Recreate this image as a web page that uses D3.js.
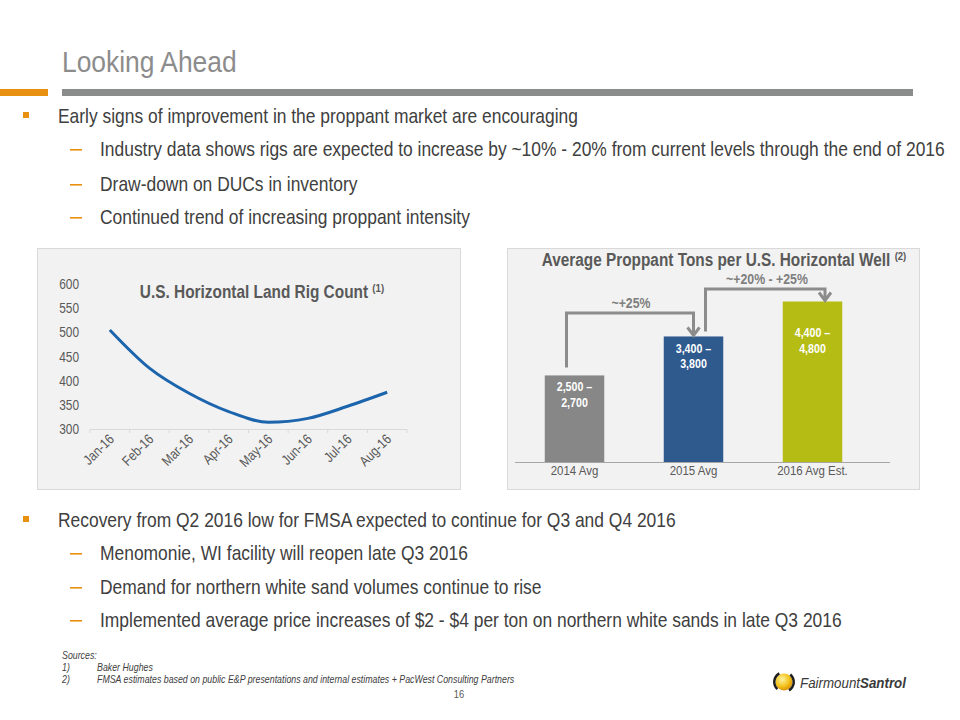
<!DOCTYPE html>
<html><head><meta charset="utf-8">
<script src="https://cdn.jsdelivr.net/npm/d3@7/dist/d3.min.js"></script>
<style>
body{margin:0;background:#fff;}
svg{display:block;}
</style></head>
<body>
<svg id="s" width="960" height="720"></svg>
<script>
// ---- data ----
const months = ["Jan-16","Feb-16","Mar-16","Apr-16","May-16","Jun-16","Jul-16","Aug-16"];
const rigCount = [505, 426, 374, 336, 314, 322, 347, 376];
const rigTicks = [300, 350, 400, 450, 500, 550, 600];

const barCats = ["2014 Avg","2015 Avg","2016 Avg Est."];
const barValues = [2600, 3770, 4820];
const barLabels = [["2,500 –","2,700"],["3,400 –","3,800"],["4,400 –","4,800"]];
const growthLabels = ["~+25%","~+20% - +25%"];

const bullets1 = ["Early signs of improvement in the proppant market are encouraging"];
const subs1 = ["Industry data shows rigs are expected to increase by ~10% - 20% from current levels through the end of 2016",
  "Draw-down on DUCs in inventory",
  "Continued trend of increasing proppant intensity"];
const bullets2 = ["Recovery from Q2 2016 low for FMSA expected to continue for Q3 and Q4 2016"];
const subs2 = ["Menomonie, WI facility will reopen late Q3 2016",
  "Demand for northern white sand volumes continue to rise",
  "Implemented average price increases of $2 - $4 per ton on northern white sands in late Q3 2016"];
const sources = ["Baker Hughes","FMSA estimates based on public E&P presentations and internal estimates + PacWest Consulting Partners"];

// ---- helpers ----
const svg = d3.select("#s");
const F = "'Liberation Sans',Arial,sans-serif";
const ORANGE = "#e8900f";
// condensed text: Arial-like font squeezed horizontally (Arial Narrow look)
function ntext(parent, x, y, size, sx, opts){
  opts = opts || {};
  const t = parent.append("text")
    .attr("transform", `translate(${x},${y})` + (opts.rotate ? ` rotate(${opts.rotate})` : "") + ` scale(${sx},1)`)
    .attr("font-family", F).attr("font-size", size)
    .attr("fill", opts.fill || "#404040")
    .attr("text-anchor", opts.anchor || "start");
  if (opts.bold) t.attr("font-weight","bold");
  if (opts.italic) t.attr("font-style","italic");
  if (opts.text !== undefined) t.text(opts.text);
  return t;
}

// title
ntext(svg, 62, 72, 30, 0.88, {fill:"#8c8c8c", text:"Looking Ahead"});
svg.append("rect").attr("x",0).attr("y",89).attr("width",48).attr("height",7).attr("fill",ORANGE);
svg.append("rect").attr("x",62).attr("y",89).attr("width",851).attr("height",7).attr("fill","#8a8c8c");

function bulletBlock(mainTxt, subTxts, y0, ys){
  svg.append("rect").attr("x",23).attr("y",y0-4).attr("width",6).attr("height",6).attr("fill",ORANGE);
  ntext(svg, 58, y0+7, 20.5, 0.85, {text:mainTxt});
  subTxts.forEach((t,i)=>{
    const y = ys[i];
    svg.append("rect").attr("x",70).attr("y",y).attr("width",12).attr("height",1.6).attr("fill",ORANGE);
    ntext(svg, 100, y+7, 20.5, 0.85, {text:t});
  });
}
bulletBlock(bullets1[0], subs1, 116, [149, 184, 217]);
bulletBlock(bullets2[0], subs2, 520, [553, 587, 620]);

// ---- line chart ----
const g1 = svg.append("g");
g1.append("rect").attr("x",37.5).attr("y",248.5).attr("width",423).attr("height",241)
  .attr("fill","#f2f2f2").attr("stroke","#d9d9d9");
const x1 = d3.scaleBand().domain(months).range([90,407]);
const y1 = d3.scaleLinear().domain([300,600]).range([429,284]);
const yAx = g1.append("g").attr("transform","translate(80,0)")
  .call(d3.axisLeft(y1).tickValues(rigTicks).tickSize(0).tickPadding(2));
yAx.select(".domain").remove();
yAx.selectAll("text").remove();
rigTicks.forEach(v=>ntext(g1, 79, y1(v)+5, 14, 0.85, {anchor:"end", fill:"#595959", text:d3.format("d")(v)}));
g1.append("line").attr("x1",90).attr("x2",407).attr("y1",429.5).attr("y2",429.5).attr("stroke","#d9d9d9");
const bounds = months.map(m=>x1(m)).concat([x1.range()[1]]);
g1.selectAll(".tk").data(bounds).join("line").attr("x1",d=>d).attr("x2",d=>d)
  .attr("y1",429.5).attr("y2",433).attr("stroke","#d9d9d9");
months.forEach(m=>ntext(g1, x1(m)+x1.bandwidth()/2+5, 440, 14, 0.85, {rotate:-45, anchor:"end", fill:"#595959", text:m}));
const line = d3.line().x((d,i)=>x1(months[i])+x1.bandwidth()/2).y(d=>y1(d)).curve(d3.curveMonotoneX);
g1.append("path").datum(rigCount).attr("d",line).attr("fill","none").attr("stroke","#1c65ad").attr("stroke-width",3);
const t1 = ntext(g1, 262, 298, 17.5, 0.88, {anchor:"middle", bold:true, fill:"#595959"});
t1.append("tspan").text("U.S. Horizontal Land Rig Count ");
t1.append("tspan").attr("font-size",11).attr("dy",-6).text("(1)");

// ---- bar chart ----
const g2 = svg.append("g");
g2.append("rect").attr("x",507.5).attr("y",248.5).attr("width",412).attr("height",241)
  .attr("fill","#f2f2f2").attr("stroke","#d9d9d9");
const x2 = d3.scaleBand().domain(barCats).range([515,872]).paddingInner(0.5).paddingOuter(0.25);
const y2 = d3.scaleLinear().domain([0,5000]).range([462,295.5]);
const barColors = ["#878787","#2e5a8e","#b5bd14"];
g2.selectAll(".bar").data(barValues).join("rect")
  .attr("x",(d,i)=>x2(barCats[i])).attr("width",x2.bandwidth())
  .attr("y",d=>y2(d)).attr("height",d=>y2(0)-y2(d)).attr("fill",(d,i)=>barColors[i]);
g2.append("line").attr("x1",515).attr("x2",890).attr("y1",462.5).attr("y2",462.5).attr("stroke","#a6a6a6");
barCats.forEach(c=>ntext(g2, x2(c)+x2.bandwidth()/2, 475, 13.5, 0.85, {anchor:"middle", fill:"#595959", text:c}));
const labOff = [16, 17, 36];
const labGap = [15.5, 14.5, 15.5];
barLabels.forEach((ls,i)=>{
  const cx = x2(barCats[i])+x2.bandwidth()/2;
  const top = y2(barValues[i]);
  ls.forEach((l,j)=>{
    ntext(g2, cx, top+labOff[i]+j*labGap[i], 13, 0.82, {anchor:"middle", bold:true, fill:"#fff", text:l});
  });
});
const t2 = ntext(g2, 724, 266, 18.5, 0.83, {anchor:"middle", bold:true, fill:"#595959"});
t2.append("tspan").text("Average Proppant Tons per U.S. Horizontal Well ");
t2.append("tspan").attr("font-size",11.5).attr("dy",-6).text("(2)");

// connectors
function connector(i, dxStart, gapStart, riseTop, dxEnd){
  const c0 = x2(barCats[i])+x2.bandwidth()/2, c1 = x2(barCats[i+1])+x2.bandwidth()/2;
  const xs = c0+dxStart, ys = y2(barValues[i])-gapStart, xe = c1+dxEnd, ye = y2(barValues[i+1]);
  g2.append("path").attr("d",`M${xs},${ys}V${riseTop}H${xe}V${ye-2}`)
    .attr("fill","none").attr("stroke","#8c8c8c").attr("stroke-width",3);
  g2.append("path").attr("d",`M${xe-6},${ye-9}L${xe},${ye-1}L${xe+6},${ye-9}`)
    .attr("fill","none").attr("stroke","#8c8c8c").attr("stroke-width",3);
}
connector(0,-8,8,313,0);
connector(1,12,5,289,12.5);
ntext(g2, 631, 308, 14.5, 0.85, {anchor:"middle", bold:true, fill:"#7f7f7f", text:growthLabels[0]});
ntext(g2, 767, 284, 14.5, 0.85, {anchor:"middle", bold:true, fill:"#7f7f7f", text:growthLabels[1]});

// ---- sources ----
const sf = (x,y,t)=>ntext(svg, x, y, 10.5, 0.84, {italic:true, fill:"#404040", text:t});
sf(62,659,"Sources:");
sf(62,671,"1)"); sf(97,671,sources[0]);
sf(62,683,"2)"); sf(97,683,sources[1]);
ntext(svg, 459, 698, 11, 0.85, {anchor:"middle", fill:"#595959", text:"16"});

// ---- logo ----
const defs = svg.append("defs");
const rg = defs.append("radialGradient").attr("id","orb").attr("cx","40%").attr("cy","35%").attr("r","70%");
rg.append("stop").attr("offset","0%").attr("stop-color","#fff3a0");
rg.append("stop").attr("offset","60%").attr("stop-color","#f2c21b");
rg.append("stop").attr("offset","100%").attr("stop-color","#d98a00");
svg.append("circle").attr("cx",784).attr("cy",682).attr("r",8.5).attr("fill","url(#orb)");
svg.append("path").attr("d",d3.arc()({innerRadius:8.5,outerRadius:11,startAngle:-2.4,endAngle:-0.5}))
  .attr("transform","translate(784,682)").attr("fill","#1e1e1e");
svg.append("path").attr("d",d3.arc()({innerRadius:8.5,outerRadius:11,startAngle:0.7,endAngle:2.6}))
  .attr("transform","translate(784,682)").attr("fill","#1e1e1e");
const lg = ntext(svg, 800, 688, 14.5, 0.92, {italic:true, fill:"#3a3a3a"});
lg.append("tspan").text("Fairmount");
lg.append("tspan").attr("font-weight","bold").text("Santrol");
</script>
</body></html>
